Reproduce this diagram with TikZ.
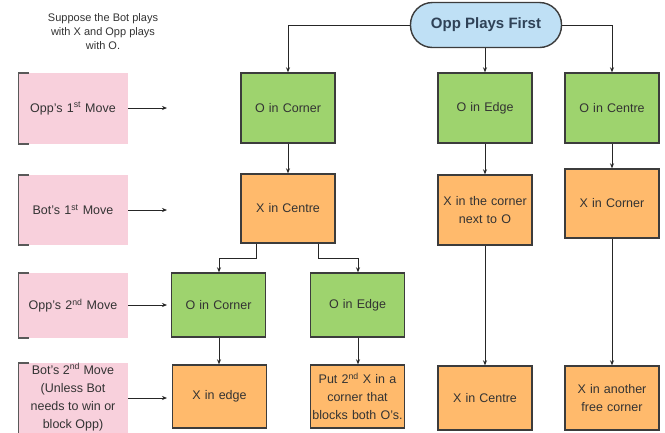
\documentclass[tikz,border=0pt]{standalone}
\usepackage{fontspec}
\setmainfont{Liberation Sans}
\usetikzlibrary{arrows.meta}
\definecolor{gbox}{HTML}{9ED36E}
\definecolor{obox}{HTML}{FFBA6C}
\definecolor{pbox}{HTML}{F8D0DC}
\definecolor{bbox}{HTML}{BFE0F5}
\definecolor{edge}{HTML}{3C3C3C}
\definecolor{txt}{HTML}{333333}
\definecolor{ttl}{HTML}{2F4257}
\tikzset{
  box/.style={rectangle, draw=edge, line width=1.4pt, text=txt, align=center,
    font=\fontsize{12.5}{18}\selectfont, inner sep=1pt, text width=#1},
  box/.default=92pt,
  gbx/.style={box, fill=gbox},
  obx/.style={box, fill=obox},
  pink/.style={rectangle, fill=pbox, text=txt, align=center,
    font=\fontsize{12.5}{18}\selectfont, inner sep=0pt, text width=106pt},
  conn/.style={draw=black!85, line width=0.7pt, -{Stealth[length=5pt,width=4pt]}},
  brk/.style={draw=black!65, line width=1.5pt},
}
\newcommand{\sups}[1]{\textsuperscript{#1}}
\begin{document}
\begin{tikzpicture}[x=1pt,y=-1pt]
\useasboundingbox (0,0) rectangle (665,432);
\fill[white] (0,0) rectangle (665,432);

% title note
\node[text=txt, align=center, font=\fontsize{11}{14}\selectfont] (note) at (103,32)
  {Suppose the Bot plays\\with X and Opp plays\\with O.};

% start node
\node[rectangle, rounded corners=22pt, draw=edge, line width=1.4pt, fill=bbox,
  minimum width=151pt, minimum height=45pt, text=ttl,
  font=\bfseries\fontsize{15}{18}\selectfont] (start) at (486,25) {Opp Plays First};

% row 1
\node[gbx, minimum height=70pt] (oc1) at (288,108) {O in Corner};
\node[gbx, minimum height=70pt] (oe1) at (485,108) {O in Edge};
\node[gbx, minimum height=70pt] (ocn1) at (612,108) {O in Centre};

% row 2
\node[obx, minimum height=69pt] (xc) at (288,208.5) {X in Centre};
\node[obx, minimum height=70pt] (xcn) at (485,210) {X in the corner\\next to O};
\node[obx, minimum height=69pt] (xcr) at (612,203.5) {X in Corner};

% row 3
\node[gbx, minimum height=64pt] (oc2) at (218.5,305) {O in Corner};
\node[gbx, minimum height=64pt] (oe2) at (357.5,305) {O in Edge};

% row 4
\node[obx, minimum height=63pt] (xe) at (219.5,396.5) {X in edge};
\node[obx, minimum height=63pt] (put) at (357.5,396.5) {Put 2\sups{nd} X in a\\corner that\\blocks both O's.};
\node[obx, minimum height=64pt] (xcen) at (485,398) {X in Centre};
\node[obx, minimum height=64pt] (xano) at (612,398) {X in another\\free corner};

% pink labels
\node[pink, minimum width=110pt, minimum height=71pt] (p1) at (73,108.5) {Opp's 1\sups{st} Move};
\node[pink, minimum width=110pt, minimum height=70pt] (p2) at (73,210) {Bot's 1\sups{st} Move};
\node[pink, minimum width=110pt, minimum height=65pt] (p3) at (73,305.5) {Opp's 2\sups{nd} Move};
\node[pink, minimum width=110pt, minimum height=72pt] (p4) at (73,399) {};
\node[text=txt, align=center, font=\fontsize{12.5}{18}\selectfont] (p4t) at (73,397)
  {Bot's 2\sups{nd} Move\\(Unless Bot\\needs to win or\\block Opp)};

% brackets
\draw[brk] ([xshift=11pt]p1.north west) -- ([xshift=0.75pt]p1.north west) -- ([xshift=0.75pt]p1.south west) -- ([xshift=11pt]p1.south west);
\draw[brk] ([xshift=11pt]p2.north west) -- ([xshift=0.75pt]p2.north west) -- ([xshift=0.75pt]p2.south west) -- ([xshift=11pt]p2.south west);
\draw[brk] ([xshift=11pt]p3.north west) -- ([xshift=0.75pt]p3.north west) -- ([xshift=0.75pt]p3.south west) -- ([xshift=11pt]p3.south west);
\draw[brk] ([xshift=11pt]p4.north west) -- ([xshift=0.75pt]p4.north west) -- ([xshift=0.75pt]p4.south west);

% pink arrows
\coordinate (a1) at (167,108);
\coordinate (a2) at (167,210);
\coordinate (a3) at (167,305);
\coordinate (a4) at (167,398);
\draw[conn] (p1.east |- a1) -- (a1);
\draw[conn] (p2.east |- a2) -- (a2);
\draw[conn] (p3.east |- a3) -- (a3);
\draw[conn] (p4.east |- a4) -- (a4);

% start connectors
\draw[conn] (start.west) -| (oc1.north);
\draw[conn] (start.south -| oe1.north) -- (oe1.north);
\draw[conn] (start.east) -| (ocn1.north);

% tree connectors
\draw[conn] (oc1.south) -- (xc.north);
\draw[conn] (oe1.south) -- (xcn.north);
\draw[conn] (ocn1.south) -- (xcr.north);
\draw[conn] ([xshift=-32pt]xc.south) |- (219,258) -- (oc2.north -| 219,0);
\draw[conn] ([xshift=30pt]xc.south) |- (358,258) -- (oe2.north -| 358,0);
\draw[conn] (oc2.south -| 219,0) -- (xe.north -| 219,0);
\draw[conn] (oe2.south -| 358,0) -- (put.north -| 358,0);
\draw[conn] (xcn.south) -- (xcen.north);
\draw[conn] (xcr.south) -- (xano.north);
\end{tikzpicture}
\end{document}
